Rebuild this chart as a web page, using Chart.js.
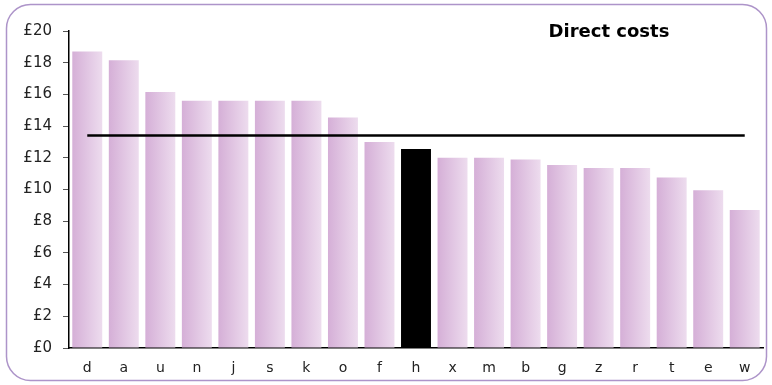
<!DOCTYPE html>
<html>
<head>
<meta charset="utf-8">
<script src="https://cdn.jsdelivr.net/npm/chart.js@4.4.1/dist/chart.umd.min.js"></script>
<style>
  html, body { margin: 0; padding: 0; background: #ffffff; }
  #wrap { width: 772px; height: 385px; position: relative; }
</style>
</head>
<body>
<div id="wrap"><canvas id="chart" width="772" height="385"></canvas></div>
<script>
// Direct cost per organisation, sorted high to low
const categories = ['d','a','u','n','j','s','k','o','f','h','x','m','b','g','z','r','t','e','w'];
const directCosts = [18.7, 18.15, 16.15, 15.6, 15.6, 15.6, 15.6, 14.55, 13.0, 12.55, 12.0, 12.0, 11.9, 11.55, 11.35, 11.35, 10.75, 9.95, 8.7];
// Average across all organisations
const averageCost = [13.4, 13.4, 13.4, 13.4, 13.4, 13.4, 13.4, 13.4, 13.4, 13.4, 13.4, 13.4, 13.4, 13.4, 13.4, 13.4, 13.4, 13.4, 13.4];
const highlighted = 'h';
const yTicks = [0, 2, 4, 6, 8, 10, 12, 14, 16, 18, 20];
const chartTitle = 'Direct costs';

const FONT = "'DejaVu Sans', Verdana, sans-serif";
const BAR_PCT = 0.82;

function barFill(ctx) {
  const chart = ctx.chart;
  const label = categories[ctx.dataIndex];
  if (label === highlighted) return '#000000';
  const xs = chart.scales.x;
  if (!xs || !chart.chartArea || ctx.dataIndex === undefined) return '#e0c4e2';
  const cx = xs.getPixelForValue(ctx.dataIndex);
  const half = (xs.width / categories.length) * BAR_PCT / 2;
  const g = chart.ctx.createLinearGradient(cx - half, 0, cx + half, 0);
  g.addColorStop(0, '#d5afd7');
  g.addColorStop(1, '#eddcee');
  return g;
}

const framePlugin = {
  id: 'frame',
  beforeDraw(chart) {
    const c = chart.ctx;
    c.save();
    c.fillStyle = '#ffffff';
    c.fillRect(0, 0, chart.width, chart.height);
    const x = 6.5, y = 4.5, w = 760, h = 376, r = 24;
    c.beginPath();
    c.moveTo(x + r, y);
    c.lineTo(x + w - r, y);
    c.arcTo(x + w, y, x + w, y + r, r);
    c.lineTo(x + w, y + h - r);
    c.arcTo(x + w, y + h, x + w - r, y + h, r);
    c.lineTo(x + r, y + h);
    c.arcTo(x, y + h, x, y + h - r, r);
    c.lineTo(x, y + r);
    c.arcTo(x, y, x + r, y, r);
    c.closePath();
    c.strokeStyle = '#ad94c9';
    c.lineWidth = 1.5;
    c.stroke();
    c.restore();
  },
  afterDraw(chart) {
    const c = chart.ctx;
    c.save();
    c.fillStyle = '#000000';
    c.font = 'bold 18px ' + FONT;
    c.textAlign = 'center';
    c.textBaseline = 'middle';
    c.fillText(chartTitle, 609, 32);
    c.restore();
  }
};

new Chart(document.getElementById('chart'), {
  data: {
    labels: categories,
    datasets: [
      {
        type: 'line',
        data: averageCost,
        borderColor: '#000000',
        borderWidth: 2.5,
        pointRadius: 0,
        fill: false,
        order: 0
      },
      {
        type: 'bar',
        data: directCosts,
        backgroundColor: barFill,
        borderWidth: 0,
        barPercentage: BAR_PCT,
        categoryPercentage: 1.0,
        order: 1
      }
    ]
  },
  options: {
    responsive: false,
    animation: false,
    events: [],
    layout: { padding: { top: 31, right: 9, bottom: 0, left: 0 } },
    plugins: { legend: { display: false }, tooltip: { enabled: false }, title: { display: false } },
    scales: {
      x: {
        offset: true,
        grid: { display: false, drawTicks: false },
        border: { display: true, color: '#000000', width: 1.5 },
        ticks: { color: '#222222', font: { family: FONT, size: 14 }, padding: 12, maxRotation: 0, autoSkip: false },
        afterFit(scale) { scale.height = 37; }
      },
      y: {
        min: 0,
        max: 20,
        afterBuildTicks(scale) { scale.ticks = yTicks.map(v => ({ value: v })); },
        grid: { display: true, drawOnChartArea: false, drawTicks: true, tickLength: 6, color: '#555555' },
        border: { display: true, color: '#000000', width: 1.5 },
        ticks: {
          color: '#222222',
          font: { family: FONT, size: 15 },
          padding: 11,
          callback: v => '£' + v
        },
        afterFit(scale) { scale.width = 69; }
      }
    }
  },
  plugins: [framePlugin]
});
</script>
</body>
</html>
